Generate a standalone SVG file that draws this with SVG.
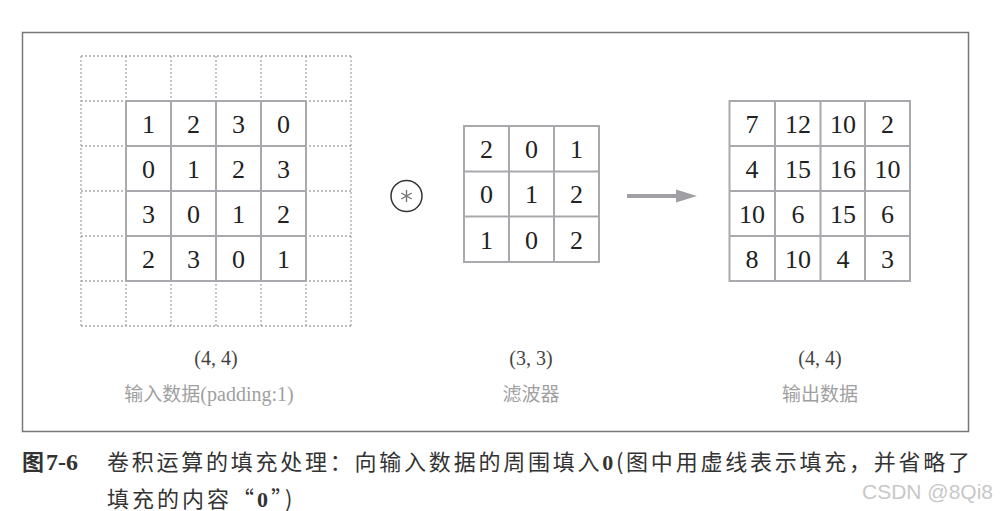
<svg xmlns="http://www.w3.org/2000/svg" width="1007" height="511" viewBox="0 0 1007 511">
<style>
.dash{stroke:#a9a9ad;stroke-width:1.3;stroke-dasharray:2 2;fill:none}
.sol{stroke:#a9a9ad;stroke-width:2;fill:none}
.num{font-family:"Liberation Serif","DejaVu Serif",serif;font-size:26px;fill:#222;text-anchor:middle}
.dim{font-family:"Liberation Serif","DejaVu Serif",serif;font-size:20px;fill:#444;text-anchor:middle}
.lab{font-family:"Noto Sans CJK SC","Liberation Sans",sans-serif;font-size:19px;fill:#a0a0a0;text-anchor:middle}
.ser{font-family:"Liberation Serif","DejaVu Serif",serif}
.cap{font-family:"Noto Sans CJK SC","Liberation Sans",sans-serif;font-size:22px;fill:#333}
</style>
<rect x="0" y="0" width="1007" height="511" fill="#fff"/>
<rect x="22.5" y="32.5" width="946" height="399" fill="none" stroke="#777" stroke-width="1.5"/>

<g id="input">
<path class="dash" d="M81,56V326M126,56V326M171,56V326M216,56V326M261,56V326M306,56V326M351,56V326M81,56H351M81,101H351M81,146H351M81,191H351M81,236H351M81,281H351M81,326H351"/>
<rect x="126" y="101" width="180" height="180" fill="#fff" stroke="none"/>
<path class="sol" d="M126,101H306V281H126ZM171,101V281M216,101V281M261,101V281M126,146H306M126,191H306M126,236H306"/>
<g>
<text class="num" x="148.5" y="133">1</text><text class="num" x="193.5" y="133">2</text><text class="num" x="238.5" y="133">3</text><text class="num" x="283.5" y="133">0</text>
<text class="num" x="148.5" y="178">0</text><text class="num" x="193.5" y="178">1</text><text class="num" x="238.5" y="178">2</text><text class="num" x="283.5" y="178">3</text>
<text class="num" x="148.5" y="223">3</text><text class="num" x="193.5" y="223">0</text><text class="num" x="238.5" y="223">1</text><text class="num" x="283.5" y="223">2</text>
<text class="num" x="148.5" y="268">2</text><text class="num" x="193.5" y="268">3</text><text class="num" x="238.5" y="268">0</text><text class="num" x="283.5" y="268">1</text>
</g>
<text class="dim" x="216" y="365">(4, 4)</text>
<text class="lab" x="209" y="401">输入数据<tspan class="ser" font-size="20">(padding:1)</tspan></text>
</g>

<g id="conv-op">
<circle cx="406.5" cy="196" r="15.5" fill="none" stroke="#333" stroke-width="1.5"/>
<path d="M406.5,190V202M401.3,193L411.7,199M401.3,199L411.7,193" stroke="#777" stroke-width="1.4" fill="none"/>
</g>

<g id="filter">
<path class="sol" d="M464,126H599V262H464ZM509,126V262M554,126V262M464,171.5H599M464,216.5H599"/>
<text class="num" x="486.5" y="158">2</text><text class="num" x="531.5" y="158">0</text><text class="num" x="576.5" y="158">1</text>
<text class="num" x="486.5" y="203">0</text><text class="num" x="531.5" y="203">1</text><text class="num" x="576.5" y="203">2</text>
<text class="num" x="486.5" y="249">1</text><text class="num" x="531.5" y="249">0</text><text class="num" x="576.5" y="249">2</text>
<text class="dim" x="531" y="365">(3, 3)</text>
<text class="lab" x="531" y="401">滤波器</text>
</g>

<g id="connectors">
<line x1="627" y1="196" x2="680" y2="196" stroke="#a0a0a4" stroke-width="4"/>
<polygon points="676,189.5 697,196 676,202.5" fill="#a0a0a4"/>
</g>

<g id="output">
<path class="sol" d="M729.5,101H910V281H729.5ZM775,101V281M820.5,101V281M865,101V281M729.5,146H910M729.5,191H910M729.5,236H910"/>
<text class="num" x="752" y="133">7</text><text class="num" x="798" y="133">12</text><text class="num" x="843" y="133">10</text><text class="num" x="887.5" y="133">2</text>
<text class="num" x="752" y="178">4</text><text class="num" x="798" y="178">15</text><text class="num" x="843" y="178">16</text><text class="num" x="887.5" y="178">10</text>
<text class="num" x="752" y="223">10</text><text class="num" x="798" y="223">6</text><text class="num" x="843" y="223">15</text><text class="num" x="887.5" y="223">6</text>
<text class="num" x="752" y="268">8</text><text class="num" x="798" y="268">10</text><text class="num" x="843" y="268">4</text><text class="num" x="887.5" y="268">3</text>
<text class="dim" x="820" y="365">(4, 4)</text>
<text class="lab" x="820" y="401">输出数据</text>
</g>

<g id="caption">
<text class="cap" x="22" y="470" font-weight="bold">图<tspan class="ser" font-size="24" dx="2">7-6</tspan></text>
<text class="cap" x="107" y="470" textLength="863" lengthAdjust="spacing">卷积运算的填充处理：向输入数据的周围填入<tspan class="ser" font-weight="bold">0</tspan>(图中用虚线表示填充，并省略了</text>
<text class="cap" x="107" y="507" letter-spacing="3">填充的内容“<tspan class="ser" font-weight="bold">0</tspan>”)</text>
</g>
<text x="862" y="499" font-family="'Liberation Sans',Arial,sans-serif" font-size="21" fill="#c8c8c8">CSDN @8Qi8</text>
</svg>
